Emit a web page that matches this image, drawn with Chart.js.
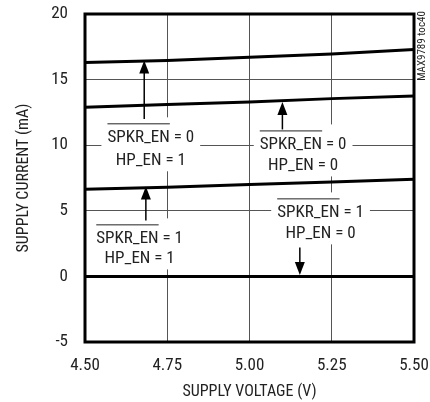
<!DOCTYPE html>
<html>
<head>
<meta charset="utf-8">
<script src="https://cdn.jsdelivr.net/npm/chart.js@4.4.1/dist/chart.umd.min.js"></script>
<style>
  html, body { margin: 0; padding: 0; background: #fff; }
  #wrap { width: 430px; height: 402px; }
</style>
</head>
<body>
<div id="wrap"><canvas id="chart" width="430" height="402"></canvas></div>
<script>
// supply voltage (V)
const voltage = [4.50, 4.75, 5.00, 5.25, 5.50];

// supply current (mA) for each enable state
const spkr0_hp1 = [16.3, 16.45, 16.7, 16.95, 17.3];
const spkr0_hp0 = [12.9, 13.1, 13.3, 13.55, 13.75];
const spkr1_hp1 = [6.65, 6.8, 7.0, 7.2, 7.4];
const spkr1_hp0 = [0, 0, 0, 0, 0];

const xTicks = [4.50, 4.75, 5.00, 5.25, 5.50];
const yTicks = [-5, 0, 5, 10, 15, 20];

// Roboto squeezed with the "condensed" stretch keyword
const FONT = 'Roboto, "Liberation Sans", Arial, sans-serif';
const STRETCH = 'condensed';

// label boxes: text centre in data units, arrow from/to in data units
const notes = [
    { x: 4.70, y1: 10.6, y2: 8.85, spkr: '0', hp: '1', ax: 4.68, from: 12.0, to: 16.45 },
    { x: 5.163, y1: 10.06, y2: 8.46, spkr: '0', hp: '0', ax: 5.10, from: 11.2, to: 13.3 },
    { x: 5.216, y1: 4.88, y2: 3.28, spkr: '1', hp: '0', ax: 5.153, from: 2.2, to: 0.1 },
    { x: 4.666, y1: 2.9, y2: 1.37, spkr: '1', hp: '1', ax: 4.685, from: 4.27, to: 6.85 }
];

function toPoints(ys) {
    return voltage.map((v, i) => ({ x: v, y: ys[i] }));
}

function boxOf(ctx, xs, ys, n) {
    ctx.font = STRETCH + ' 17px ' + FONT;
    const w = Math.max(ctx.measureText('SPKR_EN = ' + n.spkr).width, ctx.measureText('HP_EN = ' + n.hp).width);
    const cx = xs.getPixelForValue(n.x);
    const top = ys.getPixelForValue(n.y1) - 20;
    const bottom = ys.getPixelForValue(n.y2) + 11;
    return { left: cx - w / 2 - 6, right: cx + w / 2 + 6, top: top, bottom: bottom, cx: cx, w: w };
}

const notesPlugin = {
    id: 'notes',
    beforeDatasetsDraw(chart) {
        const ctx = chart.ctx;
        const xs = chart.scales.x, ys = chart.scales.y;
        ctx.save();
        ctx.fillStyle = '#fff';
        notes.forEach(n => {
            const b = boxOf(ctx, xs, ys, n);
            ctx.fillRect(b.left, b.top, b.right - b.left, b.bottom - b.top);
        });
        ctx.restore();
    },
    afterDatasetsDraw(chart) {
        const ctx = chart.ctx;
        const xs = chart.scales.x, ys = chart.scales.y;
        const a = chart.chartArea;
        ctx.save();
        notes.forEach(n => {
            const b = boxOf(ctx, xs, ys, n);
            ctx.fillStyle = '#222';
            ctx.textAlign = 'center';
            ctx.textBaseline = 'middle';
            const l1 = 'SPKR_EN = ' + n.spkr;
            const y1 = ys.getPixelForValue(n.y1);
            ctx.fillText(l1, b.cx, y1);
            ctx.fillText('HP_EN = ' + n.hp, b.cx, ys.getPixelForValue(n.y2));
            // overline on SPKR_EN
            const full = ctx.measureText(l1).width;
            const ow = ctx.measureText('SPKR_EN').width;
            const lx = b.cx - full / 2;
            ctx.strokeStyle = '#222';
            ctx.lineWidth = 1;
            ctx.beginPath();
            ctx.moveTo(lx, y1 - 13.5);
            ctx.lineTo(lx + ow, y1 - 13.5);
            ctx.stroke();
            // arrow
            const ax = xs.getPixelForValue(n.ax);
            const yf = ys.getPixelForValue(n.from);
            const yt = ys.getPixelForValue(n.to);
            const dir = yt < yf ? 1 : -1;
            ctx.strokeStyle = '#000';
            ctx.lineWidth = 1.5;
            ctx.beginPath();
            ctx.moveTo(ax, yf);
            ctx.lineTo(ax, yt + dir * 10);
            ctx.stroke();
            ctx.fillStyle = '#000';
            ctx.beginPath();
            ctx.moveTo(ax, yt);
            ctx.lineTo(ax - 5, yt + dir * 13);
            ctx.lineTo(ax + 5, yt + dir * 13);
            ctx.closePath();
            ctx.fill();
        });
        // frame
        ctx.strokeStyle = '#000';
        ctx.lineWidth = 3;
        ctx.strokeRect(a.left, a.top, a.right - a.left, a.bottom - a.top);
        // part number
        ctx.translate(422, 46);
        ctx.rotate(-Math.PI / 2);
        ctx.fillStyle = '#222';
        ctx.font = STRETCH + ' 11px ' + FONT;
        ctx.textAlign = 'center';
        ctx.textBaseline = 'middle';
        ctx.fillText('MAX9789 toc40', 0, 0);
        ctx.restore();
    }
};

function line(data) {
    return {
        data: toPoints(data),
        borderColor: '#000',
        borderWidth: 3,
        pointRadius: 0,
        fill: false,
        tension: 0
    };
}

// Chart.js puts "weight" right before the size, so the stretch keyword goes there
const tickFont = { family: FONT, size: 17, weight: STRETCH };
const titleFont = { family: FONT, size: 16, weight: STRETCH };

new Chart(document.getElementById('chart'), {
    type: 'line',
    data: {
        datasets: [line(spkr0_hp1), line(spkr0_hp0), line(spkr1_hp1), line(spkr1_hp0)]
    },
    options: {
        responsive: false,
        animation: false,
        events: [],
        layout: { padding: { top: 14, right: 16, left: 0, bottom: 0 } },
        plugins: { legend: { display: false }, tooltip: { enabled: false } },
        scales: {
            x: {
                type: 'linear',
                min: 4.5,
                max: 5.5,
                afterFit: s => { s.height = 60; s.paddingLeft = 0; s.paddingRight = 0; },
                afterBuildTicks: s => { s.ticks = xTicks.map(v => ({ value: v })); },
                ticks: {
                    padding: 14,
                    color: '#222',
                    font: tickFont,
                    callback: v => v.toFixed(2)
                },
                grid: { color: '#555', lineWidth: 1, drawTicks: false },
                border: { display: false },
                title: {
                    display: true,
                    text: 'SUPPLY VOLTAGE (V)',
                    color: '#222',
                    font: titleFont,
                    padding: { top: 0, bottom: 0 }
                }
            },
            y: {
                type: 'linear',
                min: -5,
                max: 20,
                afterFit: s => { s.width = 85; s.paddingTop = 0; s.paddingBottom = 0; },
                afterBuildTicks: s => { s.ticks = yTicks.map(v => ({ value: v })); },
                ticks: {
                    padding: 17,
                    color: '#222',
                    font: tickFont
                },
                grid: { color: '#555', lineWidth: 1, drawTicks: false },
                border: { display: false },
                title: {
                    display: true,
                    text: 'SUPPLY CURRENT (mA)',
                    color: '#222',
                    font: titleFont,
                    padding: { top: 14, bottom: 0 }
                }
            }
        }
    },
    plugins: [notesPlugin]
});
</script>
</body>
</html>
